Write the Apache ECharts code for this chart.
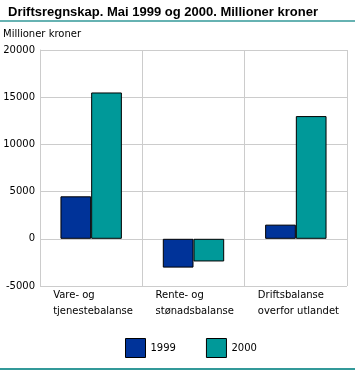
<!DOCTYPE html>
<html><head><meta charset="utf-8">
<script src="https://cdn.jsdelivr.net/npm/echarts@6/dist/echarts.min.js"></script>
<style>html,body{margin:0;padding:0;background:#fff;}#c{width:355px;height:370px;}</style>
</head><body><div id="c"></div>
<script>
var categories = ['Vare- og\ntjenestebalanse', 'Rente- og\nstønadsbalanse', 'Driftsbalanse\noverfor utlandet'];
var seriesNames = ['1999', '2000'];
var values1999 = [4500, -3050, 1500];
var values2000 = [15500, -2400, 13000];
var yTicks = {min: -5000, max: 20000, interval: 5000};

var chart = echarts.init(document.getElementById('c'));
var font = 'DejaVu Sans';
chart.setOption({
  animation: false,
  textStyle: {fontFamily: font},
  title: {
    text: 'Driftsregnskap. Mai 1999 og 2000. Millioner kroner',
    left: 3, top: 1,
    textStyle: {fontFamily: 'Liberation Sans', fontWeight: 'bold', fontSize: 13, color: '#000'}
  },
  graphic: [
    {type: 'line', shape: {x1: 0, y1: 21, x2: 355, y2: 21}, style: {stroke: '#339999', lineWidth: 1.5}},
    {type: 'line', shape: {x1: 0, y1: 369, x2: 355, y2: 369}, style: {stroke: '#339999', lineWidth: 2}},
    {type: 'text', left: 3, top: 29, style: {text: 'Millioner kroner', font: '10px "DejaVu Sans"', fill: '#000'}}
  ],
  legend: {
    top: 333, left: 120,
    icon: 'rect',
    itemWidth: 20, itemHeight: 19, itemGap: 30,
    data: seriesNames,
    itemStyle: {borderColor: '#000', borderWidth: 1},
    textStyle: {fontFamily: font, fontSize: 10, color: '#000'}
  },
  grid: {left: 40, right: 8, top: 50, bottom: 84, containLabel: false},
  xAxis: {
    type: 'category', data: categories,
    axisLine: {show: false}, axisTick: {show: false},
    splitLine: {show: true, lineStyle: {color: '#cccccc', width: 1}},
    axisLabel: {
      margin: 1, color: '#000', fontSize: 10, fontFamily: font, interval: 0,
      formatter: function (v) { return v.split('\n').map(function (s) { return '{a|' + s + '}'; }).join('\n'); },
      rich: {a: {width: 76, align: 'left', fontSize: 10, fontFamily: font, lineHeight: 16, color: '#000'}}
    }
  },
  yAxis: {
    type: 'value', min: yTicks.min, max: yTicks.max, interval: yTicks.interval,
    axisLine: {show: true, lineStyle: {color: '#cccccc'}}, axisTick: {show: false},
    splitLine: {show: true, lineStyle: {color: '#cccccc', width: 1}},
    axisLabel: {margin: 5, color: '#000', fontSize: 10, fontFamily: font, formatter: function (v) { return String(v); }}
  },
  series: [
    {name: seriesNames[0], type: 'bar', data: values1999, barGap: '0%', barCategoryGap: '40%',
      itemStyle: {color: '#003399', borderColor: '#000', borderWidth: 1}},
    {name: seriesNames[1], type: 'bar', data: values2000, barGap: '0%', barCategoryGap: '40%',
      itemStyle: {color: '#009999', borderColor: '#000', borderWidth: 1}}
  ]
});
</script></body></html>
